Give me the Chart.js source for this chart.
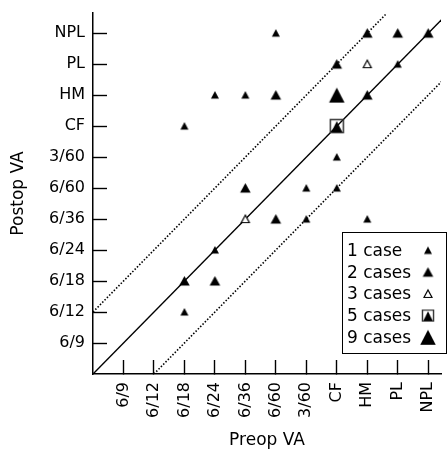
<!DOCTYPE html>
<html><head><meta charset="utf-8">
<script src="https://cdn.jsdelivr.net/npm/chart.js@4"></script>
<style>html,body{margin:0;padding:0;background:#fff}#wrap{width:447px;height:453px;position:relative}</style>
</head><body><div id="wrap"><canvas id="c"></canvas></div>
<script>
// Visual acuity levels (category order on both axes)
const levels = ['6/9','6/12','6/18','6/24','6/36','6/60','3/60','CF','HM','PL','NPL'];
const tickValues = [1,2,3,4,5,6,7,8,9,10,11];
// [Preop VA, Postop VA]
const oneCase = [['6/60','NPL'],['PL','PL'],['6/24','HM'],['6/36','HM'],['CF','3/60'],['3/60','6/60'],['CF','6/60'],['3/60','6/36'],['HM','6/36'],['6/24','6/24'],['6/18','6/12'],['6/18','CF']];
const twoCases = [['HM','NPL'],['PL','NPL'],['NPL','NPL'],['CF','PL'],['6/60','HM'],['HM','HM'],['6/36','6/60'],['6/60','6/36'],['6/18','6/18'],['6/24','6/18']];
const threeCases = [['HM','PL'],['6/36','6/36']];
const fiveCases = [['CF','CF']];
const nineCases = [['CF','HM']];
const legendLabels = ['1 case','2 cases','3 cases','5 cases','9 cases'];
// reference lines (in level units)
const equalityLine = [[0,0],[12,12]];
const upperLine = [[0,2],[9.6,11.6]];
const lowerLine = [[2,0],[12,10]];

const toPts = arr => arr.map(([a,b]) => ({x: levels.indexOf(a)+1, y: levels.indexOf(b)+1}));
const toLine = arr => arr.map(([x,y]) => ({x, y}));

function triMarker(w, h, filled) {
  const pad = 2;
  const c = document.createElement('canvas');
  c.width = Math.ceil(w) + pad*2; c.height = Math.ceil(h) + pad*2;
  const g = c.getContext('2d');
  const cx = c.width/2;
  g.beginPath();
  g.moveTo(cx, pad); g.lineTo(cx + w/2, pad + h); g.lineTo(cx - w/2, pad + h); g.closePath();
  if (filled) { g.fillStyle = '#000'; g.fill(); }
  else { g.fillStyle = '#fff'; g.fill(); g.lineWidth = 1.2; g.strokeStyle = '#000'; g.stroke(); }
  return c;
}
function boxMarker() {
  const c = document.createElement('canvas');
  c.width = 16; c.height = 16;
  const g = c.getContext('2d');
  g.lineWidth = 1.5; g.strokeStyle = '#333';
  g.strokeRect(1.5, 1.5, 13, 13);
  g.beginPath(); g.moveTo(8, 3); g.lineTo(13.5, 14); g.lineTo(2.5, 14); g.closePath();
  g.fillStyle = '#000'; g.fill();
  return c;
}
const markers = [triMarker(8, 7.5, true), triMarker(10.5, 9.5, true), triMarker(8, 7.5, false), boxMarker(), triMarker(15.5, 15, true)];
const legendScale = [1, 1, 1, 0.85, 1];

const font = 'DejaVu Sans';
const pointSets = [oneCase, twoCases, threeCases, fiveCases, nineCases];

const datasets = pointSets.map((s, i) => ({
  label: legendLabels[i], data: toPts(s), pointStyle: markers[i], pointRadius: 5,
  showLine: false, order: 0, caseLegend: true
}));
const lineDs = (pts, dash) => ({ data: toLine(pts), showLine: true, pointRadius: 0, borderColor: '#000',
  borderWidth: dash ? 1.6 : 1.4, borderDash: dash || [], order: 10, fill: false });
datasets.push(lineDs(equalityLine), lineDs(upperLine, [1.5, 1.8]), lineDs(lowerLine, [1.5, 1.8]));

const legendPlugin = {
  id: 'caseLegend',
  afterDraw(chart) {
    const ctx = chart.ctx, a = chart.chartArea;
    const boxL = a.right - 99, boxT = a.bottom - 142, boxB = a.bottom - 21;
    ctx.save();
    ctx.strokeStyle = '#000'; ctx.lineWidth = 1;
    ctx.fillStyle = '#fff';
    ctx.fillRect(boxL, boxT, a.right - boxL + 5, boxB - boxT);
    ctx.strokeRect(Math.round(boxL) + 0.5, Math.round(boxT) + 0.5, a.right - boxL + 5, boxB - boxT);
    ctx.font = '17px "' + font + '"'; ctx.textBaseline = 'middle'; ctx.textAlign = 'left'; ctx.fillStyle = '#000';
    const items = chart.data.datasets.filter(d => d.caseLegend);
    items.forEach((d, i) => {
      const y = boxT + 18.5 + i * 21.7;
      ctx.fillText(d.label, boxL + 5, y + 1);
      const img = d.pointStyle, s = legendScale[i];
      ctx.drawImage(img, a.right - 13 - img.width*s/2, y - img.height*s/2, img.width*s, img.height*s);
    });
    ctx.restore();
  }
};

const noPad = s => { s.paddingLeft = 0; s.paddingRight = 0; s.paddingTop = 0; s.paddingBottom = 0; };
const tickFont = {family: font, size: 16};
new Chart(document.getElementById('c'), {
  type: 'scatter',
  data: { datasets },
  plugins: [legendPlugin],
  options: {
    responsive: true, maintainAspectRatio: false, animation: false,
    layout: { padding: { top: 13, right: 0, left: 0, bottom: 0 } },
    plugins: { legend: { display: false }, tooltip: { enabled: false } },
    scales: {
      x: {
        type: 'linear', min: 0, max: 11.42,
        afterBuildTicks: s => { s.ticks = tickValues.map(v => ({value: v})); },
        afterFit: s => { s.height = 79; noPad(s); },
        ticks: { callback: v => levels[v-1], autoSkip: false, minRotation: 90, maxRotation: 90, font: tickFont, color: '#000', padding: 22 },
        grid: { drawOnChartArea: false, tickLength: -14, tickWidth: 1.4, tickColor: '#000' },
        border: { color: '#000', width: 1.5 },
        title: { display: true, text: 'Preop VA', font: {family: font, size: 17}, color: '#000', padding: {top: 0, bottom: 2} }
      },
      y: {
        type: 'linear', min: 0, max: 11.65,
        afterBuildTicks: s => { s.ticks = tickValues.map(v => ({value: v})); },
        afterFit: s => { s.width = 93; noPad(s); },
        ticks: { callback: v => levels[v-1], autoSkip: false, font: tickFont, color: '#000', padding: 22 },
        grid: { drawOnChartArea: false, tickLength: -14, tickWidth: 1.4, tickColor: '#000' },
        border: { color: '#000', width: 1.5 },
        title: { display: true, text: 'Postop VA', font: {family: font, size: 17}, color: '#000', padding: {top: 8, bottom: 0} }
      }
    }
  }
});
</script></body></html>
